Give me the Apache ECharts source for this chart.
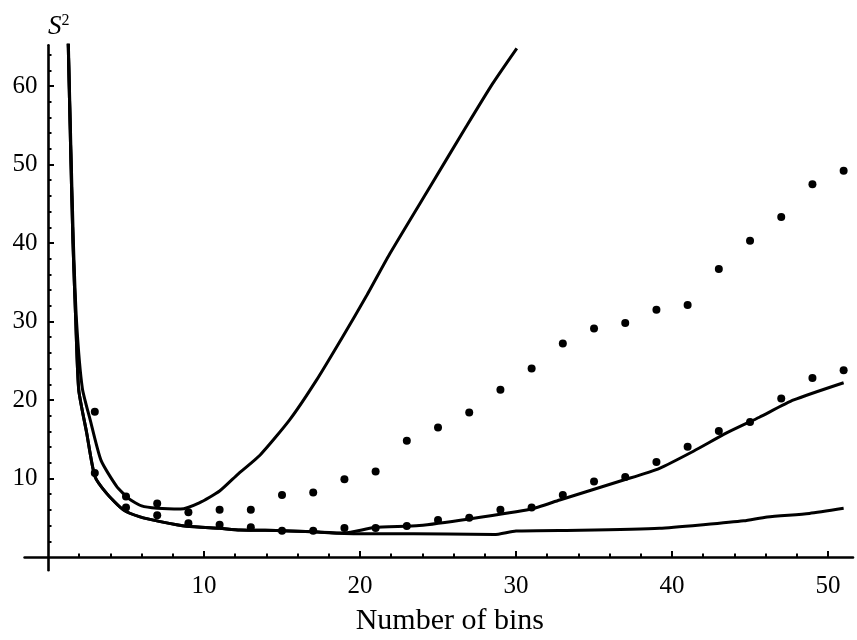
<!DOCTYPE html>
<html>
<head>
<meta charset="utf-8">
<script src="https://cdn.jsdelivr.net/npm/echarts@6/dist/echarts.min.js"></script>
<style>html,body{margin:0;padding:0;background:#fff}#c{width:857px;height:640px}</style>
</head>
<body>
<div id="c"></div>
<script>
// ---- data ----
const curveAx = [1.27, 1.31, 1.47, 1.63, 1.83, 2.2, 2.7, 3.4, 4.4, 5.2, 6.0, 7.0, 8.5, 9.7, 11.0, 12.2, 13.6, 15.5, 17.2, 18.9, 20.4, 21.9, 24.5, 26.8, 28.5, 30.05];
const curveAy = [68, 65, 52, 40, 30, 21.5, 17.5, 12.3, 9.0, 7.4, 6.5, 6.2, 6.1, 6.9, 8.4, 10.6, 13.0, 17.5, 22.5, 28.1, 33.2, 38.6, 47.2, 54.8, 60.3, 64.8];

const curveBx = [1.26, 1.30, 1.45, 1.6, 1.78, 1.97, 2.48, 3.0, 3.76, 4.83, 5.9, 7.2, 8.9, 11, 12.3, 15, 17, 19, 20.9, 23.8, 27, 30.9, 32.8, 36.9, 39.2, 41.4, 43.5, 45.6, 47.8, 51];
const curveBy = [68, 65, 52, 40, 30, 21.3, 15.8, 10.3, 8.1, 6.0, 5.1, 4.5, 3.9, 3.65, 3.45, 3.35, 3.2, 3.05, 3.75, 4.0, 4.84, 6.07, 7.26, 9.8, 11.3, 13.5, 15.8, 17.8, 20.0, 22.2];

const curveCx = [1.26, 1.30, 1.45, 1.6, 1.78, 1.97, 2.48, 3.0, 3.76, 4.83, 5.9, 7.2, 8.9, 11, 12.3, 15, 17, 19, 21.3, 25.6, 28.6, 30.0, 34.1, 39.2, 42, 44.6, 46.1, 48.8, 51];
const curveCy = [68, 65, 52, 40, 30, 21.3, 15.8, 10.3, 8.1, 6.0, 5.1, 4.5, 3.9, 3.65, 3.45, 3.35, 3.2, 3.0, 2.95, 2.93, 2.85, 3.3, 3.4, 3.65, 4.1, 4.6, 5.1, 5.55, 6.2];

const dotX = [3, 5, 7, 9, 11, 13, 15, 17, 19, 21, 23, 25, 27, 29, 31, 33, 35, 37, 39, 41, 43, 45, 47, 49, 51];
const dotsUpper = [18.5, 7.7, 6.8, 5.7, 6.0, 6.0, 7.9, 8.2, 9.9, 10.9, 14.8, 16.5, 18.4, 21.3, 24.0, 27.2, 29.1, 29.8, 31.5, 32.1, 36.7, 40.3, 43.3, 47.5, 49.2];
const dotsLower = [10.7, 6.3, 5.3, 4.3, 4.1, 3.8, 3.35, 3.35, 3.7, 3.7, 3.95, 4.7, 5.0, 6.0, 6.3, 7.9, 9.6, 10.2, 12.1, 14.05, 16.05, 17.2, 20.2, 22.8, 23.8];

const xMajorTicks = [10, 20, 30, 40, 50];
const xMinorTicks = [2, 4, 6, 8, 12, 14, 16, 18, 22, 24, 26, 28, 32, 34, 36, 38, 42, 44, 46, 48];
const yMajorTicks = [10, 20, 30, 40, 50, 60];
const yMinorTicks = [2, 4, 6, 8, 12, 14, 16, 18, 22, 24, 26, 28, 32, 34, 36, 38, 42, 44, 46, 48, 52, 54, 56, 58, 62, 64];

const xTitle = 'Number of bins';
// --------------------------------------

const zip = (xs, ys) => xs.map((x, i) => [x, ys[i]]);
const FONT = 'Liberation Serif';
const X_MIN = -1.5, X_MAX = 51.6, Y_MIN = -1.7, Y_MAX = 65.2;

const chart = echarts.init(document.getElementById('c'), null, {renderer: 'canvas'});

const baseX = {
  type: 'value', min: X_MIN, max: X_MAX, splitLine: {show: false}
};
const baseY = {
  type: 'value', min: Y_MIN, max: Y_MAX, splitLine: {show: false}
};

const lineStyle = {color: '#000', width: 3};

chart.setOption({
  animation: false,
  backgroundColor: '#fff',
  grid: {left: 24.6, right: 4, top: 45.2, bottom: 69.7, containLabel: false, outerBoundsMode: 'none'},
  xAxis: [
    Object.assign({}, baseX, {
      position: 'bottom',
      axisLine: {onZero: true, onZeroAxisIndex: 0, lineStyle: {color: '#000', width: 2.6}},
      axisTick: {show: true, inside: true, length: 6, customValues: xMajorTicks, lineStyle: {color: '#000', width: 2}},
      axisLabel: {show: true, customValues: xMajorTicks, margin: 4, color: '#000', fontFamily: FONT, fontSize: 25},
      name: xTitle, nameLocation: 'middle', nameGap: 36,
      nameTextStyle: {color: '#000', fontFamily: FONT, fontSize: 30, padding: [0, 0, 0, 22]}
    }),
    Object.assign({}, baseX, {
      position: 'top',
      axisLine: {show: false, onZero: true, onZeroAxisIndex: 0},
      axisTick: {show: true, inside: false, length: 3.5, customValues: xMinorTicks, lineStyle: {color: '#000', width: 2}},
      axisLabel: {show: false}
    })
  ],
  yAxis: [
    Object.assign({}, baseY, {
      position: 'left',
      axisLine: {onZero: true, onZeroAxisIndex: 0, lineStyle: {color: '#000', width: 2.6}},
      axisTick: {show: true, inside: true, length: 6, customValues: yMajorTicks, lineStyle: {color: '#000', width: 2}},
      axisLabel: {show: true, customValues: yMajorTicks, margin: -13, color: '#000', fontFamily: FONT, fontSize: 25},
      name: '{i|S}{s|2}', nameLocation: 'end', nameGap: 4,
      nameTextStyle: {
        align: 'left',
        rich: {
          i: {fontFamily: FONT, fontStyle: 'italic', fontSize: 27, color: '#000'},
          s: {fontFamily: FONT, fontSize: 16, color: '#000', padding: [0, 0, 12, 0]}
        }
      }
    }),
    Object.assign({}, baseY, {
      position: 'right',
      axisLine: {show: false, onZero: true, onZeroAxisIndex: 0},
      axisTick: {show: true, inside: false, length: 3.5, customValues: yMinorTicks, lineStyle: {color: '#000', width: 2}},
      axisLabel: {show: false}
    })
  ],
  series: [
    {type: 'line', data: zip(curveAx, curveAy), showSymbol: false, smooth: 0.2, lineStyle: lineStyle, clip: true, z: 3},
    {type: 'line', data: zip(curveBx, curveBy), showSymbol: false, smooth: 0.2, lineStyle: lineStyle, clip: true, z: 3},
    {type: 'line', data: zip(curveCx, curveCy), showSymbol: false, smooth: 0.2, lineStyle: lineStyle, clip: true, z: 3},
    {type: 'scatter', data: zip(dotX, dotsUpper), symbol: 'circle', symbolSize: 8, itemStyle: {color: '#000', opacity: 1}, z: 4},
    {type: 'scatter', data: zip(dotX, dotsLower), symbol: 'circle', symbolSize: 8, itemStyle: {color: '#000', opacity: 1}, z: 4}
  ]
});
</script>
</body>
</html>
